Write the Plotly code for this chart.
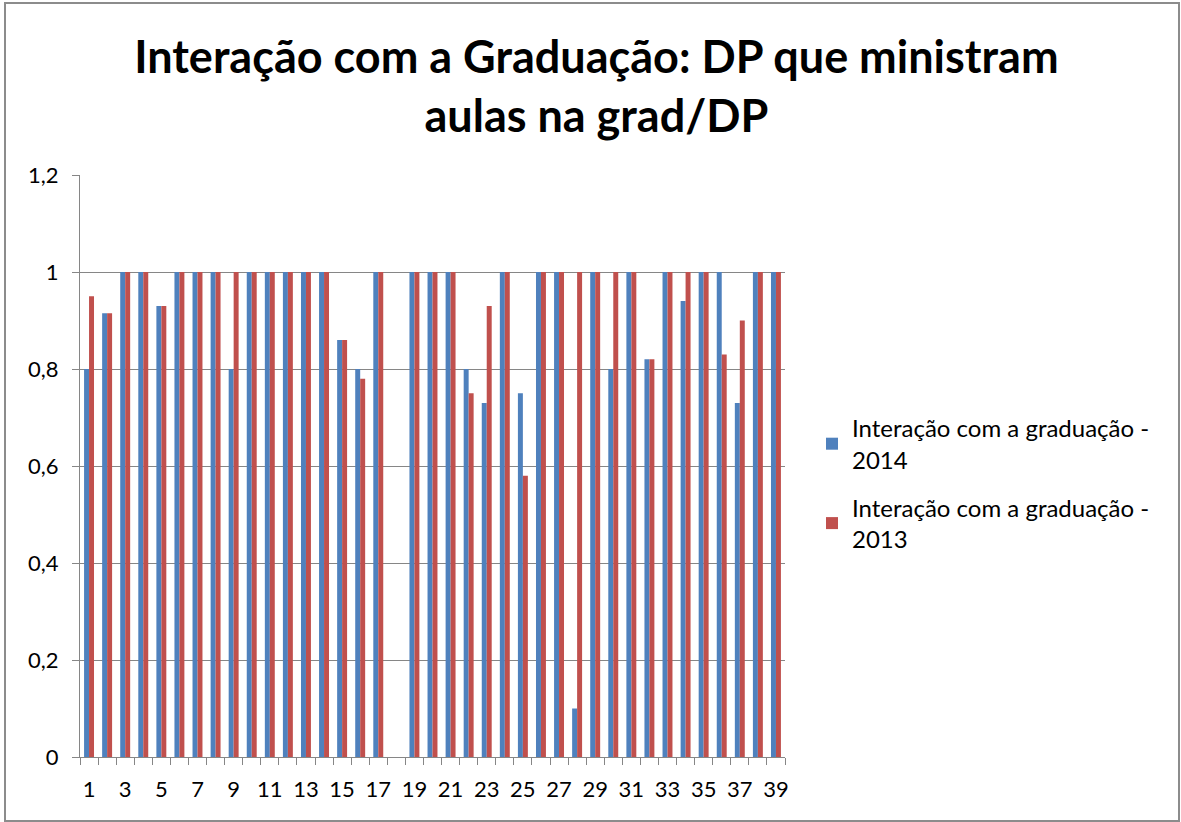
import plotly.graph_objects as go

categories = [str(i) for i in range(1, 40)]
tick_labels = [c if int(c) % 2 == 1 else "" for c in categories]

values_2014 = [0.8, 0.915, 1, 1, 0.93, 1, 1, 1, 0.8, 1, 1, 1, 1, 1, 0.86, 0.8, 1, 0, 1, 1,
               1, 0.8, 0.73, 1, 0.75, 1, 1, 0.1, 1, 0.8, 1, 0.82, 1, 0.94, 1, 1, 0.73, 1, 1]
values_2013 = [0.95, 0.915, 1, 1, 0.93, 1, 1, 1, 1, 1, 1, 1, 1, 1, 0.86, 0.78, 1, 0, 1, 1,
               1, 0.75, 0.93, 1, 0.58, 1, 1, 1, 1, 1, 1, 0.82, 1, 1, 1, 0.83, 0.9, 1, 1]

series_names = ["Interação com a graduação -<br>2014", "Interação com a graduação -<br>2013"]
colors = ["#4F81BD", "#C0504D"]

FONT = "Lato"
W, H = 1181, 822
L, R, T, B = 80, 396, 175, 65
pw, ph = W - L - R, H - T - B

fig = go.Figure()
for name, vals, col, grp in zip(series_names, [values_2014, values_2013], colors, ["a", "b"]):
    fig.add_trace(go.Bar(x=categories, y=vals, name=name, marker=dict(color=col, line=dict(width=0)),
                         legendgroup=grp))

def px_x(x):
    return (x - L) / pw

def px_y(y):
    return (H - B - y) / ph

fig.update_layout(
    width=W, height=H,
    margin=dict(l=L, r=R, t=T, b=B),
    paper_bgcolor="white", plot_bgcolor="white",
    separators=",.",
    font=dict(family=FONT, size=22, color="#000000"),
    title=dict(text="<b>Interação com a Graduação: DP que ministram<br>aulas na grad/DP</b>",
               x=0.505, xanchor="center", xref="container",
               y=1 - 73 / H, yanchor="top", yref="container",
               font=dict(family=FONT, size=45, color="#000000")),
    barmode="group", bargap=0.45, bargroupgap=0,
    legend=dict(x=px_x(812), y=px_y(406), xanchor="left", yanchor="top",
                font=dict(family=FONT, size=24), tracegroupgap=14,
                itemwidth=30, bgcolor="rgba(0,0,0,0)"),
    xaxis=dict(type="category", tickvals=categories, ticktext=tick_labels,
               tickson="boundaries", ticks="outside", ticklen=7, tickcolor="#868686",
               showline=True, linecolor="#868686", linewidth=1, showgrid=False,
               tickfont=dict(family=FONT, size=22), tickangle=0, ticklabelstandoff=13),
    yaxis=dict(range=[0, 1.2], dtick=0.2, tick0=0, ticks="outside", ticklen=7, tickcolor="#868686",
               showline=True, linecolor="#868686", linewidth=1,
               showgrid=True, gridcolor="#868686", gridwidth=1, zeroline=False,
               tickfont=dict(family=FONT, size=22), ticklabelstandoff=9),
)

# outer chart border
fig.add_shape(type="rect", xref="paper", yref="paper",
              x0=px_x(5), x1=px_x(1179), y0=px_y(821), y1=px_y(3),
              line=dict(color="#8c8c8c", width=2), fillcolor="rgba(0,0,0,0)", layer="below")

fig.write_html("out.html", config={"displayModeBar": False},
               post_script="document.body.style.margin='0';")
